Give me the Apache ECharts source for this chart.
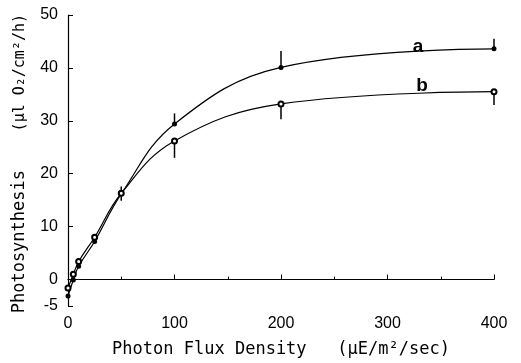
<!DOCTYPE html>
<html><head><meta charset="utf-8">
<script src="https://cdn.jsdelivr.net/npm/echarts@6/dist/echarts.min.js"></script>
<style>html,body{margin:0;padding:0;background:#fff}#c{width:521px;height:363px}</style>
</head><body><div id="c"></div>
<script>
const flux = [0, 5, 10, 25, 50, 100, 200, 400];
const seriesA = [-3.1, -0.1, 2.5, 7.2, 16.2, 29.4, 40.1, 43.6];
const seriesB = [-1.6, 1.0, 3.4, 8.0, 16.3, 26.2, 33.2, 35.5];
// error bars: [x, low, high]
const errA = [[50, 14.9, 17.6], [100, 29.4, 31.4], [200, 40.1, 43.2], [400, 43.6, 45.5]];
const errB = [[100, 23.0, 26.2], [200, 30.3, 33.2], [400, 33.0, 35.5]];
const xTicks = [0, 100, 200, 300, 400];
const yTicks = [-5, 0, 10, 20, 30, 40, 50];
const labelA = 'a', labelB = 'b';

const chart = echarts.init(document.getElementById('c'), null, {renderer: 'canvas'});
const pairs = (xs, ys) => xs.map((x, i) => [x, ys[i]]);
const errSeries = (data) => ({
  type: 'custom', data: data, z: 3,
  renderItem: (params, api) => {
    const p1 = api.coord([api.value(0), api.value(1)]);
    const p2 = api.coord([api.value(0), api.value(2)]);
    return {type: 'line', shape: {x1: p1[0], y1: p1[1], x2: p2[0], y2: p2[1]},
      style: {stroke: '#000', lineWidth: 1.5}};
  }
});
const font = 'DejaVu Sans Mono';
chart.setOption({
  animation: false,
  backgroundColor: '#fff',
  grid: {left: 68, right: 27, top: 15, bottom: 51},
  xAxis: {
    type: 'value', min: 0, max: 400, interval: 100,
    axisLine: {lineStyle: {color: '#000', width: 1.2}},
    axisTick: {inside: true, length: 5, lineStyle: {color: '#000'}},
    minorTick: {show: true, splitNumber: 2, length: 3, lineStyle: {color: '#000'}},
    splitLine: {show: false},
    axisLabel: {color: '#000', fontFamily: 'Liberation Sans', fontSize: 16, margin: 10,
      customValues: xTicks},
    name: 'Photon Flux Density   (μE/m²/sec)', nameLocation: 'middle', nameGap: 35,
    nameTextStyle: {color: '#000', fontFamily: font, fontSize: 17}
  },
  yAxis: {
    type: 'value', min: -5, max: 50, interval: 5,
    axisLine: {show: true, lineStyle: {color: '#000', width: 1.2}},
    axisTick: {show: true, inside: true, length: 5, lineStyle: {color: '#000'}, customValues: yTicks},
    splitLine: {show: false},
    axisLabel: {color: '#000', fontFamily: 'Liberation Sans', fontSize: 16, margin: 10,
      customValues: yTicks}
  },
  graphic: [
    {type: 'text', left: 11, top: 170, rotation: Math.PI / 2, style: {text: 'Photosynthesis', font: '17px ' + font, fill: '#000'}},
    {type: 'text', left: 13, top: 14, rotation: Math.PI / 2, style: {text: '(μl O₂/cm²/h)', font: '15px ' + font, fill: '#000'}},
    {type: 'text', x: 418, y: 47, style: {text: labelA, font: 'bold 19px Liberation Sans', fill: '#000', align: 'center', verticalAlign: 'middle'}},
    {type: 'text', x: 422, y: 86, style: {text: labelB, font: 'bold 19px Liberation Sans', fill: '#000', align: 'center', verticalAlign: 'middle'}}
  ],
  series: [
    {type: 'line', data: pairs(flux, seriesA), smooth: 0.4,
      symbol: 'circle', symbolSize: 5, showAllSymbol: true,
      lineStyle: {color: '#000', width: 1.2}, itemStyle: {color: '#000'}, z: 4},
    {type: 'line', data: pairs(flux, seriesB), smooth: 0.4,
      symbol: 'emptyCircle', symbolSize: 5, showAllSymbol: true,
      lineStyle: {color: '#000', width: 1.2}, itemStyle: {color: '#000', borderColor: '#000', borderWidth: 1.2}, z: 4},
    errSeries(errA),
    errSeries(errB)
  ]
});
</script></body></html>
